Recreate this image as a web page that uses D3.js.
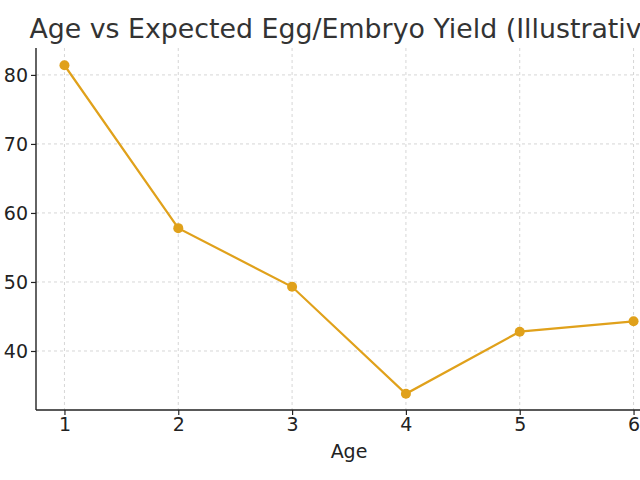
<!DOCTYPE html>
<html>
<head>
<meta charset="utf-8">
<script src="https://cdn.jsdelivr.net/npm/d3@7"></script>
<style>
  body { margin: 0; background: #fff; }
  svg { display: block; font-family: "DejaVu Sans", sans-serif; }
  .axis text { font-size: 19px; font-family: "DejaVu Sans", sans-serif; fill: #222; }
</style>
</head>
<body>
<script>
var ages = [1, 2, 3, 4, 5, 6];
var yields = [81.4, 57.8, 49.3, 33.8, 42.8, 44.3];
var yTicks = [40, 50, 60, 70, 80];

var width = 640, height = 480;
var margin = {top: 48, right: -22, bottom: 70, left: 36};
var innerW = width - margin.left - margin.right,
    innerH = height - margin.top - margin.bottom;

var svg = d3.select('body').append('svg')
    .attr('width', width)
    .attr('height', height);

var g = svg.append('g')
    .attr('transform', 'translate(' + margin.left + ',' + margin.top + ')');

var x = d3.scaleLinear().domain([0.75, 6.25]).range([0, innerW]);
var y = d3.scaleLinear().domain([31.45, 83.9]).range([innerH, 0]);

// grid
g.append('g').selectAll('line')
    .data(ages)
  .enter().append('line')
    .attr('x1', function(d) { return x(d); })
    .attr('x2', function(d) { return x(d); })
    .attr('y1', 0).attr('y2', innerH)
    .attr('stroke', '#cccccc').attr('stroke-dasharray', '3,3').attr('stroke-width', 0.8);

g.append('g').selectAll('line')
    .data(yTicks)
  .enter().append('line')
    .attr('y1', function(d) { return y(d); })
    .attr('y2', function(d) { return y(d); })
    .attr('x1', 0).attr('x2', innerW)
    .attr('stroke', '#cccccc').attr('stroke-dasharray', '3,3').attr('stroke-width', 0.8);

// axes
var xAxis = g.append('g')
    .attr('class', 'axis')
    .attr('transform', 'translate(0,' + innerH + ')')
    .call(d3.axisBottom(x).tickValues(ages).tickFormat(d3.format('d')).tickSize(5).tickPadding(3));
var yAxis = g.append('g')
    .attr('class', 'axis')
    .call(d3.axisLeft(y).tickValues(yTicks).tickSize(5).tickPadding(3));

[xAxis, yAxis].forEach(function(a) {
  a.attr('font-size', null).attr('font-family', null);
  a.select('.domain').attr('stroke', '#222').attr('stroke-width', 1.4);
  a.selectAll('.tick line').attr('stroke', '#222').attr('stroke-width', 1.2);
});
xAxis.select('.domain').attr('d', 'M0,0H' + innerW);
yAxis.select('.domain').attr('d', 'M0,' + innerH + 'V0');

// line
var line = d3.line()
    .x(function(d, i) { return x(ages[i]); })
    .y(function(d) { return y(d); });

g.append('path')
    .datum(yields)
    .attr('d', line)
    .attr('fill', 'none')
    .attr('stroke', '#e0a11b')
    .attr('stroke-width', 2.2);

g.selectAll('.dot')
    .data(yields)
  .enter().append('circle')
    .attr('class', 'dot')
    .attr('cx', function(d, i) { return x(ages[i]); })
    .attr('cy', function(d) { return y(d); })
    .attr('r', 5)
    .attr('fill', '#e0a11b');

// labels
svg.append('text')
    .attr('x', margin.left + innerW / 2)
    .attr('y', 38)
    .attr('text-anchor', 'middle')
    .attr('fill', '#333')
    .style('font-size', '26.8px')
    .text('Age vs Expected Egg/Embryo Yield (Illustrative)');

svg.append('text')
    .attr('x', margin.left + x(3.5))
    .attr('y', 458)
    .attr('text-anchor', 'middle')
    .attr('fill', '#222')
    .style('font-size', '19px')
    .text('Age');
</script>
</body>
</html>
